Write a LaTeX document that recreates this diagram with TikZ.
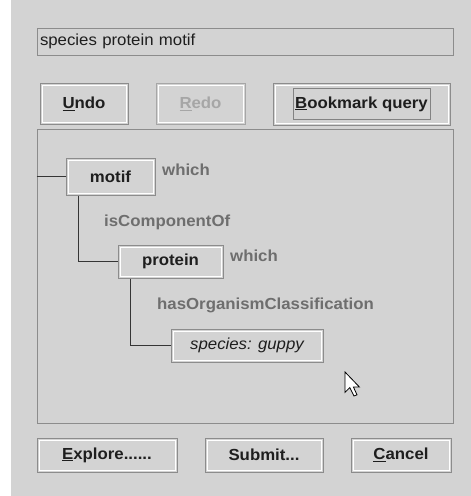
\documentclass[tikz,border=0pt]{standalone}
\usepackage{fontspec}
\setmainfont{Liberation Sans}[FakeStretch=1.05]
\usetikzlibrary{positioning}
\definecolor{bg}{HTML}{D3D3D3}
\definecolor{ink}{HTML}{1E1E1E}
\definecolor{edge}{HTML}{8C8C8C}
\definecolor{label}{HTML}{6E6E6E}
\definecolor{dim}{HTML}{A6A6A6}
\newcommand{\mnem}[1]{\underline{#1}}

\begin{document}
\begin{tikzpicture}[x=1pt, y=-1pt,
    every node/.style={font=\fontsize{16}{19}\selectfont},
    btn/.style={draw=edge, line width=1pt, fill=bg, inner sep=0pt, text=ink,
        font=\fontsize{16}{19}\selectfont\bfseries,
        path picture={\draw[white, line width=1pt]
            ([shift={(2pt,-2pt)}]path picture bounding box.north west) rectangle
            ([shift={(-2pt,2pt)}]path picture bounding box.south east);}},
    term/.style={btn},
    rel/.style={anchor=west, inner sep=0pt, text=label, font=\fontsize{16}{19}\selectfont\bfseries},
    link/.style={draw=ink!90, line width=1.6pt}]

    % 背景
    \fill[white] (0,0) rectangle (471,496);
    \fill[bg] (11,0) rectangle (471,496);
    \useasboundingbox (0,0) rectangle (471,496);

    % 上の入力欄とボタン
    \node[draw=edge, line width=1pt, fill=bg, text=ink, minimum width=416pt, minimum height=27pt,
        inner xsep=3pt, inner ysep=0pt, text width=410pt, align=left] (query) at (245,41.5) {species protein motif};
    \node[btn, minimum width=88pt, minimum height=41pt] (undo) at (84,103.5) {\mnem{U}ndo};
    \node[btn, draw=dim, text=dim, minimum width=89pt, minimum height=41pt] (redo) at (200.5,103.5) {\mnem{R}edo};
    \node[btn, minimum width=177pt, minimum height=42pt] (bookmark) at (361.5,104) {};
    \node[draw=ink!55, line width=0.6pt, text=ink, font=\fontsize{16}{19}\selectfont\bfseries,
        minimum width=137pt, minimum height=31pt, inner sep=0pt] (focus) at (bookmark) {\mnem{B}ookmark query};

    % ツリーの枠
    \node[draw=edge, line width=1pt, minimum width=416pt, minimum height=294pt, inner sep=0pt] (tree) at (245,276) {};

    % ノードを描画
    \node[term, minimum width=89pt, minimum height=37pt] (motif) at (110.5,176.5) {motif};
    \node[rel] (which1) at (162,170) {which};
    \node[rel] (iscomp) at (104,222) {isComponentOf};
    \node[term, minimum width=105pt, minimum height=33pt] (protein) at (170.5,261.5) {protein};
    \node[rel] (which2) at (230,256) {which};
    \node[rel] (hasorg) at (157,305) {hasOrganismClassification};
    \node[term, minimum width=152pt, minimum height=33pt,
        font=\fontsize{16}{19}\selectfont\mdseries\itshape] (species) at (247,345.5) {species: guppy};

    % エッジを描画
    \coordinate (root) at (tree.west |- motif.west);
    \draw[link] (root) -- (motif.west);
    \draw[link] ([xshift=13pt]motif.south west) |- (protein.west);
    \draw[link] ([xshift=13pt]protein.south west) |- (species.west);

    % マウスカーソル
    \draw[shift={(345,372)}, scale=1.2, fill=white, draw=black, line width=0.8pt, line join=miter]
        (0,0) -- (0,17) -- (4,13) -- (7.5,20) -- (10,19) -- (7,12.5) -- (12,12.5) -- cycle;

    % 下のボタン
    \node[btn, minimum width=140pt, minimum height=34pt] (explore) at (107,455) {\mnem{E}xplore......};
    \node[btn, minimum width=118pt, minimum height=34pt] (submit) at (264,455) {Submit...};
    \node[btn, minimum width=100pt, minimum height=34pt] (cancel) at (401,455) {\mnem{C}ancel};
\end{tikzpicture}
\end{document}
